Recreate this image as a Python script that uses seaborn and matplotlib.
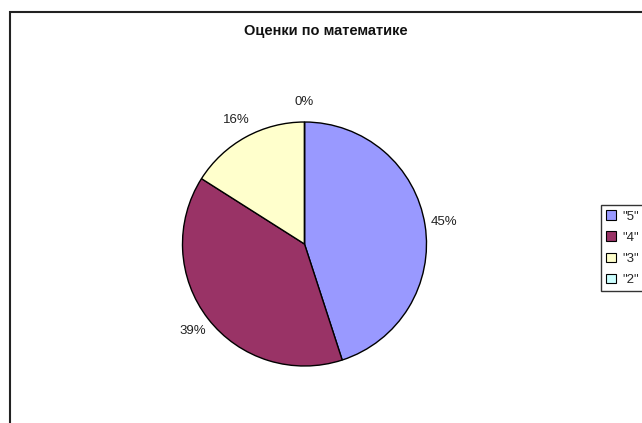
import numpy as np
import seaborn as sns
import matplotlib.pyplot as plt
from matplotlib.patches import Rectangle

sns.set_theme(style="white")
plt.rcParams['font.family'] = ['Liberation Sans', 'DejaVu Sans']

grades = ['"5"', '"4"', '"3"', '"2"']
shares = [45, 39, 16, 0]
colors = ["#9999FF", "#993366", "#FFFFCC", "#CCFFFF"]
title = "Оценки по математике"

fig = plt.figure(figsize=(6.42, 4.23), dpi=100)
fig.patch.set_facecolor("white")

# outer chart frame (runs off the right / bottom edge like the original)
fig.patches.append(Rectangle((10 / 642, -0.05), 1.0, 1 - 12 / 423 + 0.05,
                             transform=fig.transFigure, fill=False,
                             edgecolor="#222222", linewidth=1.5))

ax = fig.add_axes([182.5 / 642, 1 - 366 / 423, 244 / 642, 244 / 423])
wedges, texts, autotexts = ax.pie(
    shares,
    colors=colors,
    startangle=90,
    counterclock=False,
    autopct="%d%%",
    pctdistance=1.16,
    wedgeprops=dict(edgecolor="black", linewidth=1),
    textprops=dict(fontsize=9.5, color="#222222"),
    radius=1,
)
ax.set_xlim(-1, 1)
ax.set_ylim(-1, 1)
ax.set_aspect("auto")
ax.axis("off")

fig.text(326 / 642, 1 - 31 / 423, title, ha="center", va="center",
         fontsize=10.5, fontweight="bold", color="#111111")

leg = fig.legend(wedges, grades, loc="upper left",
                 bbox_to_anchor=(601 / 642, 1 - 205 / 423),
                 frameon=True, fancybox=False, fontsize=9.5,
                 handlelength=0.7, handleheight=0.7, handletextpad=0.5,
                 labelspacing=0.68, borderpad=0.4, borderaxespad=0)
leg.get_frame().set_edgecolor("black")
leg.get_frame().set_linewidth(1)
for h in leg.legend_handles:
    h.set_edgecolor("black")
    h.set_linewidth(0.8)

fig.savefig("out.png", dpi=100, facecolor="white")
